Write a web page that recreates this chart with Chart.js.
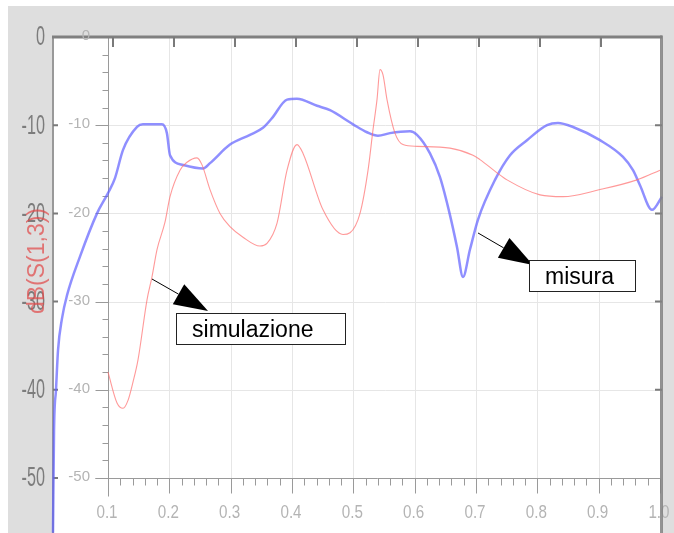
<!DOCTYPE html>
<html>
<head>
<meta charset="utf-8">
<script src="https://cdn.jsdelivr.net/npm/chart.js@4.4.0/dist/chart.umd.min.js"></script>
<style>
  body { margin: 0; background: #fff; }
  canvas { display: block; }
</style>
</head>
<body>
<canvas id="chart" width="674" height="533"></canvas>
<script>
// measured curve (blue)
const misuraX = [0.0103, 0.012, 0.0152, 0.0185, 0.025, 0.0331, 0.0543, 0.0821, 0.1, 0.1114, 0.1245, 0.1473,
  0.157, 0.188, 0.196, 0.2011, 0.2223, 0.2549, 0.2663, 0.2989, 0.3315, 0.3527, 0.3674, 0.392, 0.408,
  0.4408, 0.462, 0.4995, 0.5223, 0.5402, 0.5598, 0.5924, 0.6038, 0.625, 0.6413, 0.6576, 0.669, 0.6788,
  0.6902, 0.7033, 0.731, 0.7555, 0.7832, 0.8158, 0.8337, 0.8582, 0.9022, 0.9397, 0.956, 0.9674, 0.987, 1.0033];
const misuraY = [-56.2, -44.6, -40.0, -35.5, -31.9, -29.3, -24.9, -20.0, -17.7, -16.0, -12.8, -10.2,
  -9.9, -9.9, -10.9, -13.4, -14.5, -14.9, -14.3, -12.2, -11.1, -10.3, -9.2, -7.1, -7.0,
  -7.8, -8.3, -9.9, -10.8, -11.2, -10.9, -10.7, -11.1, -13.2, -15.9, -20.2, -23.8, -27.2,
  -24.1, -20.7, -16.2, -13.4, -11.7, -10.0, -9.75, -10.2, -11.7, -13.6, -15.1, -16.8, -19.6, -18.1];

// simulated curve (red)
const simX = [0.1, 0.1147, 0.1245, 0.1326, 0.1408, 0.1489, 0.1636, 0.1717, 0.1799, 0.1929, 0.2011, 0.2174,
  0.2288, 0.2451, 0.2533, 0.2663, 0.2826, 0.2989, 0.3201, 0.3478, 0.3592, 0.3756, 0.3919, 0.4082, 0.418,
  0.4506, 0.4832, 0.4946, 0.5109, 0.524, 0.5321, 0.5386, 0.5435, 0.5484, 0.5549, 0.5679, 0.581, 0.6038,
  0.6576, 0.6951, 0.7065, 0.7343, 0.7506, 0.8044, 0.8419, 0.9022, 0.9625, 1.0];
const simY = [-38.0, -41.5, -42.1, -41.2, -39.1, -36.6, -29.8, -27.2, -24.1, -21.0, -18.1, -15.1,
  -14.2, -13.7, -14.5, -17.3, -20.0, -21.5, -22.7, -23.7, -23.4, -21.1, -15.1, -12.2, -13.2,
  -19.6, -22.4, -22.2, -20.0, -15.1, -10.5, -7.1, -3.7, -4.3, -7.1, -10.9, -12.2, -12.4,
  -12.6, -13.4, -13.9, -15.4, -16.2, -17.9, -18.1, -17.3, -16.2, -15.1];

const xTicks = [0.1, 0.2, 0.3, 0.4, 0.5, 0.6, 0.7, 0.8, 0.9, 1.0];
const xTickLabels = ['0.1', '0.2', '0.3', '0.4', '0.5', '0.6', '0.7', '0.8', '0.9', '1.0'];
const yTicks = [0, -10, -20, -30, -40, -50];
const yTickLabels = ['0', '-10', '-20', '-30', '-40', '-50'];
const outerTopTicks = [0.1, 0.2, 0.3, 0.4, 0.5, 0.6, 0.7, 0.8, 0.9];

const yTitle = 'dB(S(1,3))';
// callouts: [label, arrow start x,y, arrow tip x,y, box x1,y1,x2,y2] in data units
const callouts = [
  ['simulazione', 0.1717, -27.44, 0.2631, -31.07, 0.2109, -31.29, 0.4864, -34.81],
  ['misura', 0.7033, -22.22, 0.793, -25.85, 0.7865, -25.28, 0.9593, -28.8]
];

function pts(xs, ys) { return xs.map((v, i) => ({ x: v, y: ys[i] })); }

const frame = {
  id: 'frame',
  beforeDraw(chart) {
    const { ctx, chartArea: a, width, height } = chart;
    ctx.save();
    ctx.fillStyle = '#fff';
    ctx.fillRect(0, 0, width, height);
    ctx.fillStyle = '#dedede';
    ctx.fillRect(8, 6, width - 8, height - 6);
    ctx.fillStyle = '#fff';
    ctx.fillRect(a.left, a.top, a.right - a.left, a.bottom - a.top);
    ctx.restore();
  },
  beforeDatasetsDraw(chart) {
    const { ctx, chartArea: a, scales } = chart;
    const x = scales.x, y = scales.y, x2 = scales.x2;
    const x0 = Math.round(x.getPixelForValue(0.1)) + 0.5;
    const y0 = Math.round(y.getPixelForValue(-50)) + 0.5;
    const xEnd = x.getPixelForValue(1.0);
    ctx.save();
    ctx.lineWidth = 1;
    // grid
    ctx.strokeStyle = '#e6e6e6';
    ctx.beginPath();
    xTicks.slice(1).forEach(v => {
      const p = Math.round(x.getPixelForValue(v)) + 0.5;
      ctx.moveTo(p, a.top); ctx.lineTo(p, y0);
    });
    yTicks.slice(1, -1).forEach(v => {
      const p = Math.round(y.getPixelForValue(v)) + 0.5;
      ctx.moveTo(x0, p); ctx.lineTo(a.right, p);
    });
    ctx.stroke();
    // inner axes
    ctx.strokeStyle = '#9a9a9a';
    ctx.beginPath();
    ctx.moveTo(x0, a.top); ctx.lineTo(x0, y0 + 18);
    ctx.moveTo(x0 - 13, y0); ctx.lineTo(xEnd, y0);
    yTicks.forEach(v => {
      const p = Math.round(y.getPixelForValue(v)) + 0.5;
      ctx.moveTo(x0 - 13, p); ctx.lineTo(x0, p);
    });
    for (let v = -2; v > -50; v -= 2) {
      if (v % 10 === 0) continue;
      const p = Math.round(y.getPixelForValue(v)) + 0.5;
      ctx.moveTo(x0 - 6, p); ctx.lineTo(x0, p);
    }
    xTicks.forEach(v => {
      const p = Math.round(x.getPixelForValue(v)) + 0.5;
      ctx.moveTo(p, y0); ctx.lineTo(p, y0 + 15);
    });
    for (let i = 6; i < 50; i++) {
      if (i % 5 === 0) continue;
      const p = Math.round(x.getPixelForValue(i * 0.02)) + 0.5;
      ctx.moveTo(p, y0); ctx.lineTo(p, y0 + 7);
    }
    ctx.stroke();
    // outer frame
    ctx.strokeStyle = '#999';
    ctx.lineWidth = 2;
    ctx.beginPath();
    ctx.moveTo(a.left, a.top); ctx.lineTo(a.left, a.bottom);
    ctx.stroke();
    ctx.strokeStyle = '#808080';
    ctx.lineWidth = 3;
    ctx.beginPath();
    ctx.moveTo(a.left - 1, a.top); ctx.lineTo(a.right, a.top);
    ctx.stroke();
    ctx.lineWidth = 2;
    ctx.strokeStyle = '#7a7a7a';
    ctx.beginPath();
    outerTopTicks.forEach(v => {
      const p = x2.getPixelForValue(v);
      ctx.moveTo(p, a.top); ctx.lineTo(p, a.top + 10);
    });
    yTicks.slice(1).forEach(v => {
      const p = y.getPixelForValue(v);
      ctx.moveTo(a.left, p); ctx.lineTo(a.left + 5, p);
      if (v > -50) { ctx.moveTo(a.right - 7, p); ctx.lineTo(a.right, p); }
    });
    ctx.stroke();
    ctx.restore();
  },
  afterDatasetsDraw(chart) {
    const { ctx, chartArea: a, scales } = chart;
    const x = scales.x, y = scales.y;
    const x0 = x.getPixelForValue(0.1);
    const y0 = y.getPixelForValue(-50);
    ctx.save();
    // cover any line overshoot on the right strip
    ctx.fillStyle = '#dedede';
    ctx.fillRect(a.right + 1, a.top - 2, 20, a.bottom);
    // inner tick labels
    ctx.fillStyle = '#b4b4b4';
    ctx.font = '15px "Liberation Sans", Arial, sans-serif';
    ctx.textAlign = 'right';
    ctx.textBaseline = 'middle';
    yTicks.forEach((v, i) => ctx.fillText(yTickLabels[i], x0 - 18, y.getPixelForValue(v) - 1));
    ctx.font = '19px "Liberation Sans", Arial, sans-serif';
    ctx.textAlign = 'center';
    xTicks.forEach((v, i) => {
      ctx.save();
      ctx.translate(x.getPixelForValue(v) - 1, y0 + 35);
      ctx.scale(0.8, 1);
      ctx.fillText(xTickLabels[i], 0, 0);
      ctx.restore();
    });
    // right border
    ctx.strokeStyle = 'rgba(128,128,128,0.85)';
    ctx.lineWidth = 3;
    ctx.beginPath();
    ctx.moveTo(a.right - 0.5, a.top - 1.5); ctx.lineTo(a.right - 0.5, a.bottom);
    ctx.stroke();
    // outer tick labels
    ctx.fillStyle = '#7c7c7c';
    ctx.font = '27px "Liberation Sans", Arial, sans-serif';
    ctx.textAlign = 'right';
    yTicks.forEach((v, i) => {
      ctx.save();
      ctx.translate(45, y.getPixelForValue(v) + 1);
      ctx.scale(0.6, 1);
      ctx.fillText(yTickLabels[i], 0, 0);
      ctx.restore();
    });
    // red axis title
    ctx.save();
    ctx.translate(38, y.getPixelForValue(-25.4));
    ctx.rotate(-Math.PI / 2);
    ctx.fillStyle = 'rgba(225, 70, 70, 0.7)';
    ctx.font = '23px "Liberation Sans", Arial, sans-serif';
    ctx.textAlign = 'center';
    ctx.fillText(yTitle, 0, 0);
    ctx.restore();
    // callouts
    callouts.forEach(c => {
      const sx = x.getPixelForValue(c[1]), sy = y.getPixelForValue(c[2]);
      const tx = x.getPixelForValue(c[3]), ty = y.getPixelForValue(c[4]);
      const bx1 = x.getPixelForValue(c[5]), by1 = y.getPixelForValue(c[6]);
      const bx2 = x.getPixelForValue(c[7]), by2 = y.getPixelForValue(c[8]);
      const dx = tx - sx, dy = ty - sy, len = Math.hypot(dx, dy);
      const ux = dx / len, uy = dy / len;
      const mx = tx - ux * 34, my = ty - uy * 34;
      ctx.strokeStyle = '#000';
      ctx.lineWidth = 1;
      ctx.beginPath();
      ctx.moveTo(sx, sy); ctx.lineTo(mx, my);
      ctx.stroke();
      ctx.fillStyle = '#000';
      ctx.beginPath();
      ctx.moveTo(tx, ty);
      ctx.lineTo(mx - uy * 11.5, my + ux * 11.5);
      ctx.lineTo(mx + uy * 11.5, my - ux * 11.5);
      ctx.closePath();
      ctx.fill();
      ctx.fillStyle = '#fff';
      ctx.fillRect(bx1, by1, bx2 - bx1, by2 - by1);
      ctx.strokeStyle = '#222';
      ctx.strokeRect(Math.round(bx1) + 0.5, Math.round(by1) + 0.5, Math.round(bx2 - bx1), Math.round(by2 - by1));
      ctx.fillStyle = '#000';
      ctx.font = '23px "Liberation Sans", Arial, sans-serif';
      ctx.textAlign = 'left';
      ctx.textBaseline = 'alphabetic';
      ctx.fillText(c[0], bx1 + 16, by2 - 7);
    });
    ctx.restore();
  }
};

new Chart(document.getElementById('chart'), {
  type: 'scatter',
  data: {
    datasets: [
      {
        label: 'simulazione',
        data: pts(simX, simY),
        showLine: true,
        borderColor: 'rgba(255, 110, 110, 0.7)',
        borderWidth: 1.1,
        pointRadius: 0,
        cubicInterpolationMode: 'monotone',
        clip: 4
      },
      {
        label: 'misura',
        data: pts(misuraX, misuraY),
        showLine: true,
        borderColor: 'rgba(95, 95, 255, 0.7)',
        borderWidth: 2.5,
        pointRadius: 0,
        cubicInterpolationMode: 'monotone',
        clip: 4
      }
    ]
  },
  options: {
    responsive: false,
    animation: false,
    layout: { padding: { left: 53, top: 37, right: 12, bottom: 0 } },
    plugins: { legend: { display: false }, tooltip: { enabled: false } },
    scales: {
      x: { type: 'linear', min: 0.0103, max: 1.0033, display: false },
      x2: { type: 'linear', min: 0.00164, max: 1.0, display: false },
      y: { type: 'linear', min: -56.24, max: 0, display: false }
    }
  },
  plugins: [frame]
});
</script>
</body>
</html>
